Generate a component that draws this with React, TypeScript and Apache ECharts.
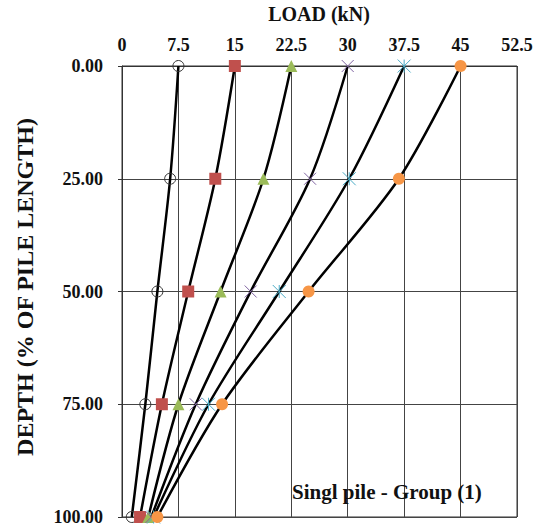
import React, { useEffect, useRef } from "react";
import * as echarts from "echarts";

const depths = [0, 25, 50, 75, 100];
const seriesNames = ["S1", "S2", "S3", "S4", "S5", "S6"];
const load1 = [7.5, 6.4, 4.7, 3.1, 1.3];
const load2 = [15, 12.4, 8.8, 5.3, 2.4];
const load3 = [22.5, 18.8, 13.1, 7.5, 3.5];
const load4 = [30, 25.0, 17.1, 9.8, 3.9];
const load5 = [37.5, 30.2, 20.9, 11.5, 4.2];
const load6 = [45, 36.8, 24.8, 13.3, 4.7];
const loads = [load1, load2, load3, load4, load5, load6];
const xTicks = [0, 7.5, 15, 22.5, 30, 37.5, 45, 52.5];
const yTicks = [0, 25, 50, 75, 100];
const xTitle = "LOAD (kN)";
const yTitle = "DEPTH (% OF PILE LENGTH)";
const note = "Singl pile - Group (1)";

const FONT = "'Liberation Serif', 'Times New Roman', serif";

const markers = [
  { symbol: "circle", size: 11, item: { color: "rgba(0,0,0,0)", borderColor: "#333", borderWidth: 1 } },
  { symbol: "rect", size: 12, item: { color: "#C0504D" } },
  { symbol: "triangle", size: 12, item: { color: "#9BBB59" } },
  { symbol: "path://M0,0L10,10M10,0L0,10", size: 12, item: { color: "none", borderColor: "#8064A2", borderWidth: 1 } },
  { symbol: "path://M0,0L10,10M10,0L0,10M5,0L5,10", size: 13, item: { color: "none", borderColor: "#4BACC6", borderWidth: 1 } },
  { symbol: "circle", size: 12, item: { color: "#F79646" } },
];

export default function App() {
  const ref = useRef<HTMLDivElement>(null);
  useEffect(() => {
    if (!ref.current) return;
    const chart = echarts.init(ref.current, undefined, { renderer: "svg" });
    chart.setOption({
      animation: false,
      backgroundColor: "#fff",
      grid: {
        left: 122,
        right: 22,
        top: 66,
        bottom: 10,
        show: true,
        borderColor: "#333",
        borderWidth: 1,
        containLabel: false,
        outerBoundsMode: "none",
      },
      xAxis: {
        type: "value",
        position: "top",
        min: 0,
        max: 52.5,
        interval: 7.5,
        axisLine: { show: true, lineStyle: { color: "#333" } },
        axisTick: { show: false },
        axisLabel: {
          margin: 12,
          fontFamily: FONT,
          fontWeight: "bold",
          fontSize: 18,
          color: "#111",
          formatter: (v: number) => (xTicks.includes(v) ? String(v) : ""),
        },
        splitLine: { show: true, lineStyle: { color: "#444", width: 1 } },
      },
      yAxis: {
        type: "value",
        inverse: true,
        min: 0,
        max: 100,
        interval: 25,
        axisLine: { show: true, lineStyle: { color: "#333" } },
        axisTick: { show: true, length: 4, lineStyle: { color: "#333" } },
        axisLabel: {
          margin: 19,
          fontFamily: FONT,
          fontWeight: "bold",
          fontSize: 18,
          color: "#111",
          formatter: (v: number) => (yTicks.includes(v) ? v.toFixed(2) : ""),
        },
        splitLine: { show: true, lineStyle: { color: "#444", width: 1 } },
      },
      series: loads.map((arr, i) => ({
        name: seriesNames[i],
        type: "line",
        smooth: 0.3,
        data: arr.map((x, j) => [x, depths[j]]),
        symbol: markers[i].symbol,
        symbolSize: markers[i].size,
        itemStyle: markers[i].item,
        lineStyle: { color: "#000", width: 2.5 },
        z: 2 + i,
        clip: false,
      })),
      graphic: [
        {
          type: "text",
          x: 319,
          y: 14,
          style: {
            text: xTitle,
            font: `bold 20px ${FONT}`,
            fill: "#111",
            align: "center",
            verticalAlign: "middle",
          },
        },
        {
          type: "text",
          x: 25,
          y: 287,
          rotation: Math.PI / 2,
          style: {
            text: yTitle,
            font: `bold 24px ${FONT}`,
            fill: "#111",
            align: "center",
            verticalAlign: "middle",
          },
        },
        {
          type: "text",
          left: 292,
          top: 481,
          style: {
            text: note,
            font: `bold 21px ${FONT}`,
            fill: "#111",
          },
          z: 100,
        },
      ],
    });
    return () => chart.dispose();
  }, []);
  return (
    <div
      ref={ref}
      style={{ position: "fixed", left: 0, top: 0, width: 539, height: 527 }}
    />
  );
}
